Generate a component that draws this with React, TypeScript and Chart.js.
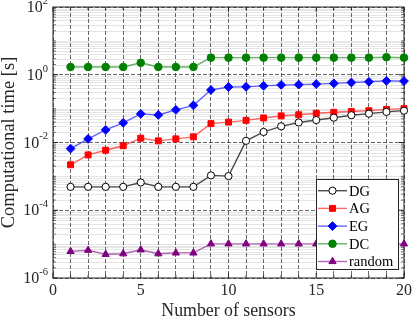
import React, { useEffect, useRef } from 'react';
import { Chart, registerables } from 'chart.js';

Chart.register(...registerables);

const FONT = "'Liberation Serif', 'Times New Roman', serif";

const sensors = [1, 2, 3, 4, 5, 6, 7, 8, 9, 10, 11, 12, 13, 14, 15, 16, 17, 18, 19, 20];
const dgTime = [4.9e-4, 4.9e-4, 4.9e-4, 4.9e-4, 6.6e-4, 4.9e-4, 4.9e-4, 4.9e-4, 1.07e-3, 1.02e-3, 0.0112, 0.0205, 0.030, 0.039, 0.046, 0.054, 0.064, 0.071, 0.080, 0.087];
const agTime = [0.0022, 0.0043, 0.0059, 0.0080, 0.0134, 0.0112, 0.0128, 0.0147, 0.036, 0.040, 0.045, 0.053, 0.061, 0.066, 0.073, 0.078, 0.082, 0.087, 0.095, 0.100];
const egTime = [0.0066, 0.0128, 0.0236, 0.038, 0.070, 0.065, 0.092, 0.125, 0.355, 0.435, 0.44, 0.47, 0.50, 0.51, 0.53, 0.556, 0.59, 0.62, 0.66, 0.65];
const dcTime = [1.7, 1.7, 1.7, 1.7, 2.25, 1.7, 1.7, 1.7, 3.2, 3.2, 3.2, 3.2, 3.2, 3.2, 3.2, 3.2, 3.2, 3.2, 3.3, 3.2];
const randomTime = [6.1e-6, 6.6e-6, 5.0e-6, 5.2e-6, 6.8e-6, 5.2e-6, 5.5e-6, 5.5e-6, 1.02e-5, 1.02e-5, 1.02e-5, 1.02e-5, 1.02e-5, 1.02e-5, 1.02e-5, 1.02e-5, 1.02e-5, 1.02e-5, 1.02e-5, 1.02e-5];

const seriesLabels = ['DG', 'AG', 'EG', 'DC', 'random'];
const yMajorExponents = [-6, -4, -2, 0, 2];
const xLabelStep = 5;
const xMin = 0;
const xMax = 20;
const yMin = 1e-6;
const yMax = 1e2;

function drawMarker(ctx: CanvasRenderingContext2D, style: string, x: number, y: number, r: number, fill: string, stroke: string) {
  ctx.beginPath();
  if (style === 'circle') {
    ctx.arc(x, y, r, 0, Math.PI * 2);
  } else if (style === 'rect') {
    const s = Math.SQRT1_2 * r;
    ctx.rect(x - s, y - s, 2 * s, 2 * s);
  } else if (style === 'rectRot') {
    ctx.moveTo(x - r, y);
    ctx.lineTo(x, y - r);
    ctx.lineTo(x + r, y);
    ctx.lineTo(x, y + r);
    ctx.closePath();
  } else if (style === 'triangle') {
    const a = (2 * Math.PI) / 3;
    ctx.moveTo(x, y - r);
    ctx.lineTo(x + Math.sin(a) * r, y - Math.cos(a) * r);
    ctx.lineTo(x + Math.sin(2 * a) * r, y - Math.cos(2 * a) * r);
    ctx.closePath();
  }
  ctx.fillStyle = fill;
  ctx.fill();
  ctx.strokeStyle = stroke;
  ctx.lineWidth = 1;
  ctx.stroke();
}

const framePlugin = {
  id: 'frameAndMinor',
  beforeDatasetsDraw(chart: any) {
    const { ctx, chartArea: a } = chart;
    const ys = chart.scales.y;
    const xs = chart.scales.x;
    ctx.save();
    // minor y grid
    ctx.strokeStyle = 'rgba(0,0,0,0.1)';
    ctx.lineWidth = 1;
    for (let e = -6; e < 2; e++) {
      for (let k = 1; k <= 9; k++) {
        if (k === 1 && e % 2 === 0) continue;
        const py = Math.round(ys.getPixelForValue(k * Math.pow(10, e))) + 0.5;
        ctx.beginPath();
        ctx.moveTo(a.left, py);
        ctx.lineTo(a.right, py);
        ctx.stroke();
      }
    }
    // inward ticks on y
    for (let e = -6; e < 2; e++) {
      for (let k = 1; k <= 9; k++) {
        const v = k * Math.pow(10, e);
        const py = ys.getPixelForValue(v);
        const major = k === 1 && e % 2 === 0;
        const len = major ? 5 : 3;
        ctx.strokeStyle = major ? '#262626' : 'rgba(38,38,38,0.6)';
        ctx.beginPath();
        ctx.moveTo(a.left, py);
        ctx.lineTo(a.left + len, py);
        ctx.moveTo(a.right, py);
        ctx.lineTo(a.right - len, py);
        ctx.stroke();
      }
    }
    // inward ticks on x
    ctx.strokeStyle = '#262626';
    for (let v = xMin; v <= xMax; v++) {
      const px = xs.getPixelForValue(v);
      const len = v % xLabelStep === 0 ? 5 : 3;
      ctx.beginPath();
      ctx.moveTo(px, a.bottom);
      ctx.lineTo(px, a.bottom - len);
      ctx.moveTo(px, a.top);
      ctx.lineTo(px, a.top + len);
      ctx.stroke();
    }
    // frame
    ctx.strokeStyle = '#262626';
    ctx.lineWidth = 1;
    ctx.strokeRect(a.left, a.top, a.right - a.left, a.bottom - a.top);
    ctx.restore();
  },
  afterDraw(chart: any) {
    const { ctx, chartArea: a } = chart;
    const ys = chart.scales.y;
    ctx.save();
    // y tick labels with superscript exponents
    ctx.fillStyle = '#262626';
    ctx.textAlign = 'right';
    ctx.textBaseline = 'middle';
    const right = a.left - 5;
    for (const e of yMajorExponents) {
      const py = ys.getPixelForValue(Math.pow(10, e));
      const exp = String(e);
      ctx.font = `10.5px ${FONT}`;
      const ew = ctx.measureText(exp).width;
      ctx.fillText(exp, right, py - 6);
      ctx.font = `16px ${FONT}`;
      ctx.fillText('10', right - ew, py + 1);
    }
    // legend
    const bx = 316, by = 179, bw = 82, bh = 90;
    ctx.fillStyle = '#ffffff';
    ctx.fillRect(bx, by, bw, bh);
    ctx.strokeStyle = '#262626';
    ctx.lineWidth = 1;
    ctx.strokeRect(bx + 0.5, by + 0.5, bw, bh);
    const datasets = chart.data.datasets;
    const rowH = 17.7;
    ctx.font = `14.5px ${FONT}`;
    ctx.textAlign = 'left';
    ctx.textBaseline = 'middle';
    datasets.forEach((ds: any, i: number) => {
      const cy = by + 11.7 + i * rowH;
      ctx.strokeStyle = ds.borderColor;
      ctx.lineWidth = ds.borderWidth;
      ctx.beginPath();
      ctx.moveTo(bx + 2, cy);
      ctx.lineTo(bx + 31, cy);
      ctx.stroke();
      drawMarker(ctx, ds.pointStyle, bx + 16.5, cy, ds.pointRadius, ds.pointBackgroundColor, ds.pointBorderColor);
      ctx.fillStyle = '#000000';
      ctx.fillText(ds.label, bx + 33, cy + 1);
    });
    ctx.restore();
  },
};

function makeSet(label: string, values: number[], line: string, color: string, fill: string, style: string, r: number) {
  return {
    label,
    data: sensors.map((s, i) => ({ x: s, y: values[i] })),
    borderColor: line,
    borderWidth: 1.4,
    pointStyle: style,
    pointRadius: r,
    pointBorderColor: color,
    pointBackgroundColor: fill,
    pointBorderWidth: 1,
    clip: false as const,
    tension: 0,
  };
}

export default function App() {
  const ref = useRef<HTMLCanvasElement | null>(null);
  useEffect(() => {
    if (!ref.current) return;
    const chart = new Chart(ref.current, {
      type: 'line',
      data: {
        datasets: [
          makeSet(seriesLabels[0], dgTime, 'rgba(0,0,0,0.7)', '#000000', '#ffffff', 'circle', 3.6),
          makeSet(seriesLabels[1], agTime, 'rgba(255,0,0,0.6)', '#ff0000', '#ff0000', 'rect', 4.2),
          makeSet(seriesLabels[2], egTime, 'rgba(0,0,255,0.6)', '#0000ff', '#0000ff', 'rectRot', 4.4),
          makeSet(seriesLabels[3], dcTime, 'rgba(0,128,0,0.6)', '#008000', '#008000', 'circle', 3.8),
          makeSet(seriesLabels[4], randomTime, 'rgba(128,0,128,0.6)', '#800080', '#800080', 'triangle', 4.2),
        ],
      },
      options: {
        animation: false,
        responsive: true,
        maintainAspectRatio: false,
        layout: { padding: { top: 7, right: 9, left: 0, bottom: 0 } },
        plugins: { legend: { display: false }, tooltip: { enabled: false } },
        scales: {
          x: {
            type: 'linear',
            min: xMin,
            max: xMax,
            afterFit: (s: any) => { s.height = 44; },
            ticks: {
              stepSize: 1,
              autoSkip: false,
              maxRotation: 0,
              padding: 3,
              color: '#262626',
              font: { family: FONT, size: 16 },
              callback: (v: any) => (Number(v) % xLabelStep === 0 ? String(v) : ''),
            },
            grid: { color: 'rgba(30,30,30,0.85)', lineWidth: 0.8, drawTicks: false },
            border: { display: false, dash: [4, 2] },
            title: {
              display: true,
              text: 'Number of sensors',
              color: '#262626',
              font: { family: FONT, size: 17.8, lineHeight: 1.2 },
              padding: { top: 0, bottom: 0 },
            },
          },
          y: {
            type: 'logarithmic',
            min: yMin,
            max: yMax,
            afterFit: (s: any) => { s.width = 53; },
            afterBuildTicks: (s: any) => { s.ticks = yMajorExponents.map((e) => ({ value: Math.pow(10, e) })); },
            ticks: { display: false },
            grid: { color: 'rgba(30,30,30,0.85)', lineWidth: 0.8, drawTicks: false },
            border: { display: false, dash: [4, 2] },
            title: {
              display: true,
              text: 'Computational time [s]',
              color: '#262626',
              font: { family: FONT, size: 18.5, lineHeight: 0.95 },
              padding: { top: 0, bottom: 0 },
            },
          },
        },
      },
      plugins: [framePlugin],
    } as any);
    return () => chart.destroy();
  }, []);
  return (
    <div style={{ position: 'fixed', left: 0, top: 0, width: 415, height: 322, background: '#fff' }}>
      <canvas ref={ref} />
    </div>
  );
}
